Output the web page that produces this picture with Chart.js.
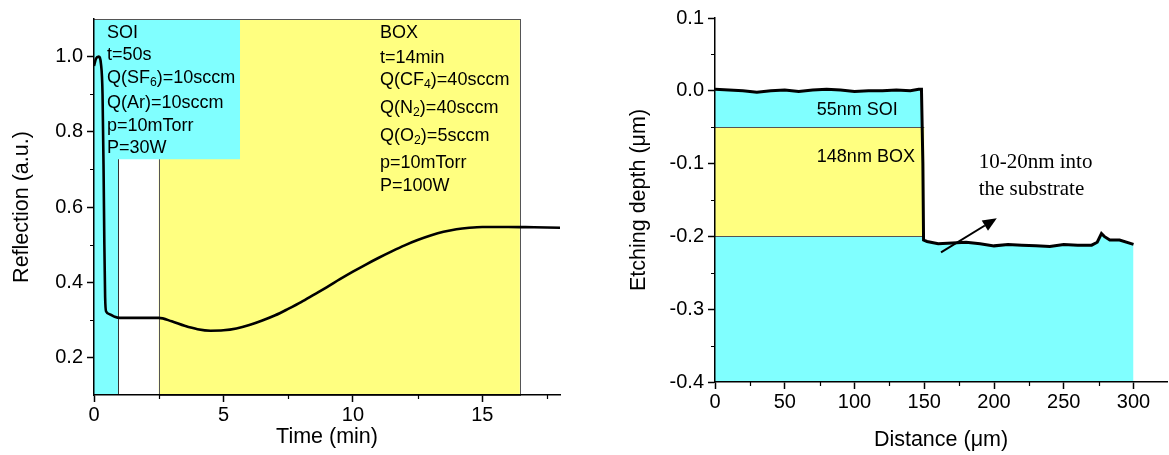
<!DOCTYPE html>
<html>
<head>
<meta charset="utf-8">
<script src="https://cdn.jsdelivr.net/npm/chart.js@4.4.0/dist/chart.umd.min.js"></script>
<style>
  html, body { margin: 0; padding: 0; background: #fff; }
  #wrap { position: relative; width: 1169px; height: 455px; }
  #reflChart { position: absolute; left: 0; top: 0; }
  #depthChart { position: absolute; left: 585px; top: 0; }
</style>
</head>
<body>
<div id="wrap">
  <canvas id="reflChart" width="585" height="455"></canvas>
  <canvas id="depthChart" width="584" height="455"></canvas>
</div>
<script>
// ---- left panel: reflection vs time ----
const timeMin = [0, 0.08, 0.18, 0.27, 0.33, 0.37, 0.4, 0.43, 0.47, 0.6, 0.8, 1.0, 1.5, 2.0, 2.5,
  3.0, 3.5, 4.0, 4.5, 5.0, 5.5, 6.0, 6.5, 7.0, 7.5, 8.0, 8.5, 9.0, 9.5, 10.0, 10.5, 11.0,
  11.5, 12.0, 12.5, 13.0, 13.5, 14.0, 14.5, 15.0, 16.0, 17.0, 18.0];
const reflection = [0.975, 0.995, 1.0, 0.98, 0.9, 0.7, 0.5, 0.36, 0.322, 0.315, 0.308, 0.305, 0.305, 0.305, 0.305,
  0.296, 0.284, 0.275, 0.271, 0.272, 0.277, 0.286, 0.298, 0.312, 0.329, 0.347, 0.367, 0.387, 0.408, 0.428, 0.447, 0.465,
  0.482, 0.498, 0.512, 0.524, 0.534, 0.541, 0.545, 0.547, 0.547, 0.546, 0.545];

// etch steps (min)
const soiEnd = 0.93;
const boxStart = 2.5;
const boxEnd = 16.45;
const soiLabel = ["SOI", "t=50s", "Q(SF_6)=10sccm", "Q(Ar)=10sccm", "p=10mTorr", "P=30W"];
const boxLabel = ["BOX", "t=14min", "Q(CF_4)=40sccm", "Q(N_2)=40sccm", "Q(O_2)=5sccm", "p=10mTorr", "P=100W"];

// ---- right panel: profile ----
const distanceUm = [0, 10, 20, 30, 40, 50, 60, 70, 80, 90, 100, 110, 120, 130, 140, 146, 148,
  149, 149.5, 152, 160, 170, 180, 190, 200, 210, 220, 230, 240, 250, 260, 270, 274, 277, 279, 283, 290, 300];
const depthUm = [0.002, 0.001, 0.0, -0.002, 0.0, 0.001, -0.001, 0.001, 0.002, 0.001, -0.001, 0.0, 0.0, 0.001, 0.0, 0.002, 0.002,
  -0.1, -0.205, -0.207, -0.21, -0.209, -0.208, -0.21, -0.213, -0.211, -0.212, -0.213, -0.214, -0.211, -0.212, -0.212, -0.208, -0.196, -0.2, -0.205, -0.205, -0.211];
const stepEdge = 150;
const soiBottom = -0.05;
const boxBottom = -0.2;

const CYAN = '#80FFFF';
const YELLOW = '#FFFF80';
const SANS = '"Liberation Sans", Arial, sans-serif';

function drawRich(ctx, str, x, y, size) {
  // "_x" marks a one-character subscript
  const parts = str.split(/_(\w)/);
  let cx = x;
  parts.forEach((p, i) => {
    const sub = i % 2 === 1;
    ctx.font = (sub ? size * 0.68 : size) + 'px ' + SANS;
    ctx.fillText(p, cx, sub ? y + size * 0.28 : y);
    cx += ctx.measureText(p).width;
  });
}

// minor tick marks (ticks whose label is empty)
const minorTicks = {
  id: 'minorTicks',
  afterDraw(chart) {
    const {ctx, scales: {x, y}} = chart;
    ctx.save();
    ctx.strokeStyle = '#000';
    ctx.lineWidth = 1.2;
    ctx.beginPath();
    x.ticks.forEach(t => {
      if (t.label === '' && t.value > x.min && t.value < x.max) {
        const px = Math.round(x.getPixelForValue(t.value)) + 0.5;
        ctx.moveTo(px, x.top); ctx.lineTo(px, x.top + 4);
      }
    });
    y.ticks.forEach(t => {
      if (t.label === '' && t.value > y.min && t.value < y.max) {
        const py = Math.round(y.getPixelForValue(t.value)) + 0.5;
        ctx.moveTo(y.right, py); ctx.lineTo(y.right - 4, py);
      }
    });
    ctx.stroke();
    ctx.restore();
  }
};

function majorColor(c) {
  return c.tick && c.tick.label === '' ? 'rgba(0,0,0,0)' : '#000';
}

function axisBase(min, max, step, fmt, titleText, titlePad, tickPad) {
  return {
    type: 'linear',
    min: min,
    max: max,
    border: { color: '#000', width: 1.5, z: 1 },
    grid: { drawOnChartArea: false, tickLength: 7, tickWidth: 1.5, tickColor: majorColor, z: 1 },
    ticks: {
      stepSize: step,
      includeBounds: false,
      autoSkip: false,
      maxRotation: 0,
      color: '#000',
      font: { family: SANS, size: 20 },
      padding: tickPad,
      callback: fmt
    },
    title: { display: true, text: titleText, color: '#000', font: { family: SANS, size: 21.5 }, padding: titlePad }
  };
}

// ---- left chart ----
const stepBands = {
  id: 'stepBands',
  beforeDraw(chart) {
    const {ctx, scales: {x, y}} = chart;
    const top = y.getPixelForValue(y.max), bot = y.getPixelForValue(y.min);
    ctx.save();
    // SOI etch column
    const x0 = x.getPixelForValue(0), x1 = x.getPixelForValue(soiEnd);
    ctx.fillStyle = CYAN;
    ctx.fillRect(x0, top, x1 - x0, bot - top);
    ctx.strokeStyle = '#333';
    ctx.lineWidth = 1;
    ctx.beginPath();
    ctx.moveTo(Math.round(x1) + 0.5, top); ctx.lineTo(Math.round(x1) + 0.5, bot);
    ctx.stroke();
    // BOX etch band
    const b0 = x.getPixelForValue(boxStart), b1 = x.getPixelForValue(boxEnd);
    ctx.fillStyle = YELLOW;
    ctx.fillRect(b0, top, b1 - b0, bot - top);
    ctx.strokeStyle = '#555';
    ctx.strokeRect(Math.round(b0) + 0.5, Math.round(top) + 0.5, Math.round(b1 - b0), Math.round(bot - top));
    // SOI recipe box
    const tx1 = x.getPixelForValue(5.64), ty1 = y.getPixelForValue(0.727);
    ctx.fillStyle = CYAN;
    ctx.fillRect(x0, top, tx1 - x0, ty1 - top);
    ctx.beginPath();
    ctx.moveTo(x0, Math.round(top) + 0.5); ctx.lineTo(b1, Math.round(top) + 0.5);
    ctx.stroke();
    ctx.restore();
  },
  afterDatasetsDraw(chart) {
    const {ctx, scales: {x, y}} = chart;
    const top = y.getPixelForValue(y.max);
    ctx.save();
    ctx.fillStyle = '#000';
    ctx.textBaseline = 'middle';
    ctx.textAlign = 'left';
    const soiOff = [14, 36, 59, 84, 107, 129];
    soiLabel.forEach((s, i) => drawRich(ctx, s, x.getPixelForValue(0.5), top + soiOff[i], 18));
    const boxOff = [14, 39, 61, 89, 117, 144, 167];
    boxLabel.forEach((s, i) => drawRich(ctx, s, x.getPixelForValue(11.05), top + boxOff[i], 18));
    ctx.restore();
  }
};

const reflPoints = timeMin.map((t, i) => ({ x: t, y: reflection[i] }));

const reflX = axisBase(0, 18, 2.5, v => (v % 5 === 0 ? String(v) : ''), 'Time (min)', { top: 0, bottom: 5 }, 1);
reflX.afterFit = s => { s.height = 60; };
const reflY = axisBase(0.1, 1.1, 0.1,
  v => (Math.round(v * 10) % 2 === 0 ? v.toFixed(1) : ''), 'Reflection (a.u.)', { top: 9, bottom: 0 }, 4);
reflY.afterFit = s => { s.width = 94; };

new Chart(document.getElementById('reflChart'), {
  type: 'scatter',
  data: {
    datasets: [{
      data: reflPoints,
      showLine: true,
      borderColor: '#000',
      borderWidth: 2.6,
      pointRadius: 0,
      cubicInterpolationMode: 'monotone'
    }]
  },
  options: {
    responsive: false,
    animation: false,
    layout: { padding: { top: 19, right: 25, left: 0, bottom: 0 } },
    plugins: { legend: { display: false }, tooltip: { enabled: false } },
    scales: { x: reflX, y: reflY }
  },
  plugins: [stepBands, minorTicks]
});

// ---- right chart ----
const layers = {
  id: 'layers',
  beforeDatasetsDraw(chart) {
    const {ctx, scales: {x, y}} = chart;
    const x0 = x.getPixelForValue(0), x1 = x.getPixelForValue(stepEdge);
    const y0 = y.getPixelForValue(soiBottom), y1 = y.getPixelForValue(boxBottom);
    ctx.save();
    ctx.fillStyle = YELLOW;
    ctx.fillRect(x0, y0, x1 - x0, y1 - y0);
    ctx.strokeStyle = '#555';
    ctx.lineWidth = 1;
    ctx.beginPath();
    ctx.moveTo(x0, Math.round(y0) + 0.5); ctx.lineTo(x1, Math.round(y0) + 0.5);
    ctx.moveTo(x0, Math.round(y1) + 0.5); ctx.lineTo(x1, Math.round(y1) + 0.5);
    ctx.stroke();
    ctx.restore();
  },
  afterDatasetsDraw(chart) {
    const {ctx, scales: {x, y}} = chart;
    ctx.save();
    ctx.fillStyle = '#000';
    ctx.textBaseline = 'middle';
    ctx.textAlign = 'left';
    drawRich(ctx, '55nm SOI', x.getPixelForValue(73), y.getPixelForValue(-0.026), 18);
    drawRich(ctx, '148nm BOX', x.getPixelForValue(73), y.getPixelForValue(-0.091), 18);
    ctx.font = '21px "Liberation Serif", "Times New Roman", serif';
    ctx.fillText('10-20nm into', x.getPixelForValue(189), y.getPixelForValue(-0.099));
    ctx.fillText('the substrate', x.getPixelForValue(189), y.getPixelForValue(-0.135));
    // arrow
    const ax = x.getPixelForValue(162), ay = y.getPixelForValue(-0.222);
    const bx = x.getPixelForValue(202), by = y.getPixelForValue(-0.175);
    const ang = Math.atan2(by - ay, bx - ax);
    const hl = 14, hw = 6;
    const hx = bx - hl * Math.cos(ang), hy = by - hl * Math.sin(ang);
    ctx.strokeStyle = '#000';
    ctx.lineWidth = 2;
    ctx.beginPath();
    ctx.moveTo(ax, ay); ctx.lineTo(hx, hy);
    ctx.stroke();
    ctx.beginPath();
    ctx.moveTo(bx, by);
    ctx.lineTo(hx + hw * Math.sin(ang), hy - hw * Math.cos(ang));
    ctx.lineTo(hx - hw * Math.sin(ang), hy + hw * Math.cos(ang));
    ctx.closePath();
    ctx.fill();
    ctx.restore();
  }
};

const profilePoints = distanceUm.map((d, i) => ({ x: d, y: depthUm[i] }));

const depthX = axisBase(0, 324, 25, v => (v % 50 === 0 ? String(v) : ''), 'Distance (\u03bcm)', { top: 0, bottom: 2 }, 1);
depthX.afterFit = s => { s.height = 73; };
const depthY = axisBase(-0.4, 0.1, 0.05, v => {
  const k = Math.round(v * 100);
  if (k % 10 !== 0) return '';
  return k === 0 ? '0.0' : (k / 100).toFixed(1);
}, 'Etching depth (\u03bcm)', { top: 41, bottom: 0 }, 4);
depthY.afterFit = s => { s.width = 130; };

new Chart(document.getElementById('depthChart'), {
  type: 'scatter',
  data: {
    datasets: [{
      data: profilePoints,
      showLine: true,
      borderColor: '#000',
      borderWidth: 3,
      pointRadius: 0,
      tension: 0,
      fill: 'start',
      backgroundColor: CYAN
    }]
  },
  options: {
    responsive: false,
    animation: false,
    layout: { padding: { top: 18, right: 2, left: 0, bottom: 0 } },
    plugins: { legend: { display: false }, tooltip: { enabled: false }, filler: { drawTime: 'beforeDraw' } },
    scales: { x: depthX, y: depthY }
  },
  plugins: [layers, minorTicks]
});
</script>
</body>
</html>
